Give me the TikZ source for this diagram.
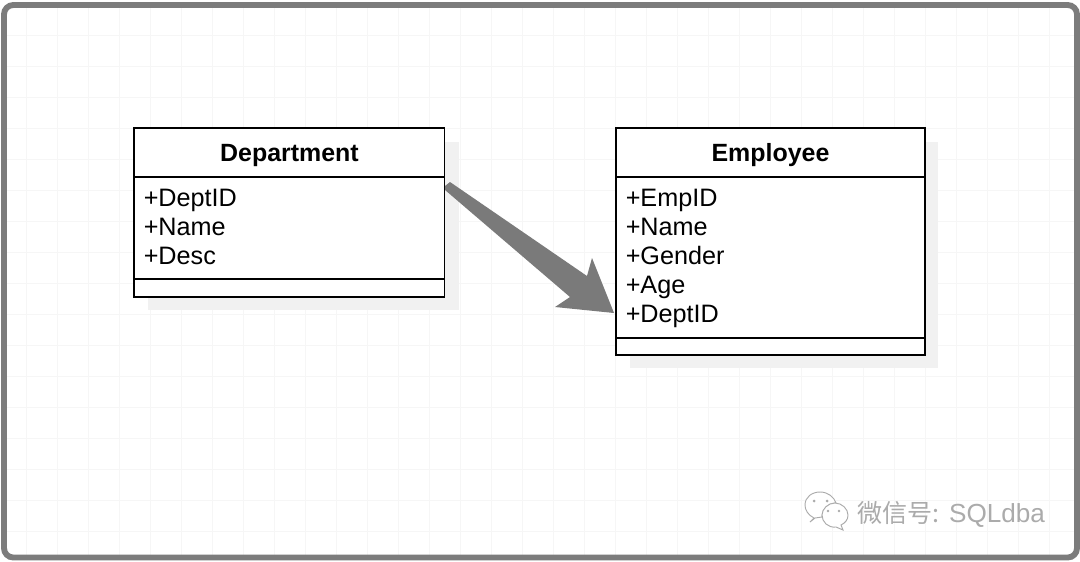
\documentclass[tikz,border=0pt]{standalone}
\usepackage{fontspec}
\setmainfont{Liberation Sans}
\newfontfamily\cjk{Noto Sans CJK SC}
\definecolor{framegray}{HTML}{7C7C7C}
\definecolor{gridgray}{HTML}{F6F6F6}
\definecolor{shadowgray}{HTML}{F1F1F1}
\definecolor{arrowgray}{HTML}{7A7A7A}
\definecolor{markgray}{HTML}{ABABAB}
\tikzset{
  x=0.75pt,y=-0.75pt,
  umlbox/.style={draw=black,line width=1.4pt,fill=white,inner sep=0pt,anchor=north west},
  umlshadow/.style={fill=shadowgray,draw=none},
  umltitle/.style={font=\fontsize{18.7}{22}\selectfont\bfseries,inner sep=0pt,anchor=base},
  umlattr/.style={font=\fontsize{18.9}{22}\selectfont,inner sep=0pt,anchor=base west},
  wmline/.style={draw=markgray,line width=0.7pt,fill=white},
  wmdot/.style={fill=markgray,draw=none},
  wmtext/.style={font=\fontsize{19.6}{24}\selectfont,inner sep=0pt,anchor=base west},
}
\begin{document}
\begin{tikzpicture}
\useasboundingbox (0,0) rectangle (1080,561);
\fill[white] (0,0) rectangle (1080,561);
% grid
\foreach \gx in {26,57,...,1060} \draw[gridgray,line width=0.6pt] (\gx,6) -- (\gx,555);
\foreach \gy in {35,66,...,550} \draw[gridgray,line width=0.6pt] (6,\gy) -- (1074,\gy);
% frame
\draw[framegray,line width=4.4pt,rounded corners=7pt] (4,5) rectangle (1077,557.5);
% shadows
\fill[umlshadow] (148,142) rectangle (459,310);
\fill[umlshadow] (630,142) rectangle (938,368);
% Department
\node[umlbox,minimum width=232.9pt,minimum height=126.8pt] (dept) at (133,127) {};
\draw[black,line width=1.4pt] (134,177) -- (444.5,177) (134,279) -- (444.5,279);
\node[umltitle] (depttitle) at (289.5,161) {Department};
\node[umlattr] (d1) at (143.5,206) {+DeptID};
\node[umlattr] (d2) at (143.5,235) {+Name};
\node[umlattr] (d3) at (143.5,264) {+Desc};
% Employee
\node[umlbox,minimum width=231.7pt,minimum height=170.3pt] (emp) at (615,127) {};
\draw[black,line width=1.4pt] (616,177) -- (924.5,177) (616,338) -- (924.5,338);
\node[umltitle] (emptitle) at (770.5,161) {Employee};
\node[umlattr] (e1) at (625.5,206) {+EmpID};
\node[umlattr] (e2) at (625.5,235) {+Name};
\node[umlattr] (e3) at (625.5,264) {+Gender};
\node[umlattr] (e4) at (625.5,293) {+Age};
\node[umlattr] (e5) at (625.5,322) {+DeptID};
% block arrow
\coordinate (as1) at (450,182);
\coordinate (as2) at (445,190);
\coordinate (at) at (614,313);
\fill[arrowgray] (as1) -- (587,276) -- (592,258) -- (at) -- (555,307) -- (570,297) -- (as2) -- (445,186) -- cycle;
% watermark
\draw[wmline] (814,518) .. controls (808,515) and (805,510) .. (805,505) .. controls (805,497) and (812,492) .. (820,492) .. controls (828,492) and (834,497) .. (836,503) .. controls (828,503) and (822,509) .. (822,517) -- (815,518) -- (810,522) -- cycle;
\fill[wmdot] (814,501) circle (1.5) (827,501) circle (1.5);
\draw[wmline] (835,503) .. controls (842,503) and (848,509) .. (848,515) .. controls (848,520) and (845,523) .. (841,525) -- (843,530) -- (836,527) .. controls (828,528) and (822,522) .. (822,515) .. controls (822,509) and (828,503) .. (835,503) -- cycle;
\fill[wmdot] (828,511) circle (1.4) (839,511) circle (1.4);
\node[wmtext,text=white] (wms) at (857.8,522.8) {{\cjk\fontsize{18.8}{24}\selectfont 微信号:} SQLdba};
\node[wmtext,text=markgray] (wm) at (857,522) {{\cjk\fontsize{18.8}{24}\selectfont 微信号:} SQLdba};
\end{tikzpicture}
\end{document}
